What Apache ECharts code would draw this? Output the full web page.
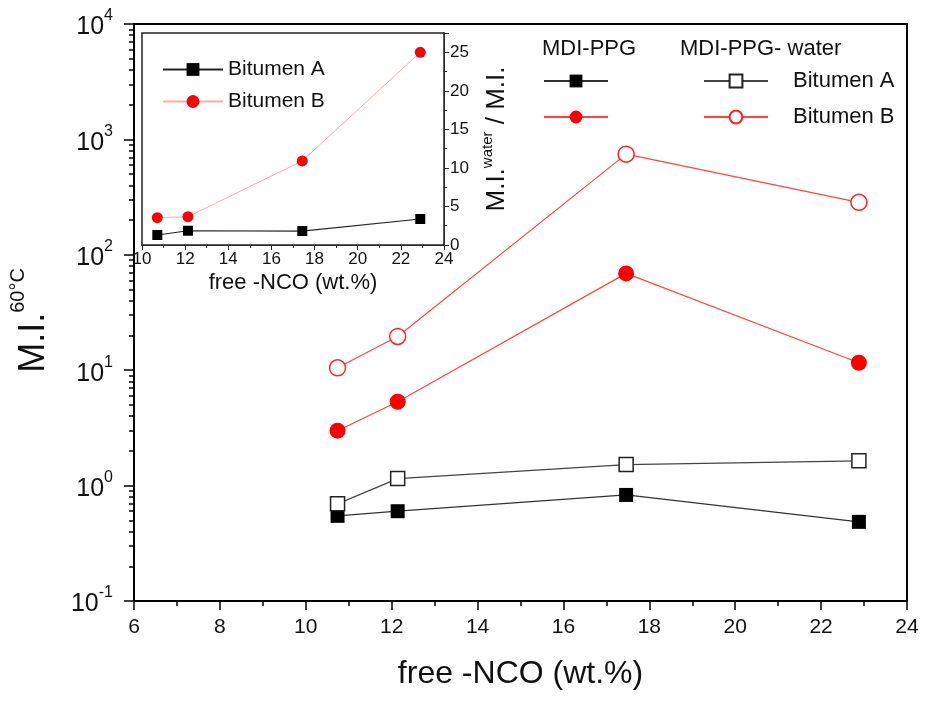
<!DOCTYPE html>
<html>
<head>
<meta charset="utf-8">
<script src="https://cdn.jsdelivr.net/npm/echarts@6/dist/echarts.min.js"></script>
<style>
  html, body { margin: 0; padding: 0; background: #fff; }
  #chart { width: 925px; height: 702px; }
</style>
</head>
<body>
<div id="chart"></div>
<script>
// main plot: M.I. at 60°C vs free -NCO
const nco = [10.74, 12.14, 17.46, 22.88];
const miA = [0.547, 0.60, 0.83, 0.485];
const miB = [2.99, 5.33, 69, 11.6];
const miAWater = [0.695, 1.15, 1.52, 1.64];
const miBWater = [10.5, 19.6, 745, 285];

// inset: ratio water / dry
const ncoInset = [10.71, 12.13, 17.43, 22.9];
const ratioA = [1.30, 1.85, 1.81, 3.37];
const ratioB = [3.54, 3.67, 10.9, 25.0];

const xTicksMain = [6, 24, 2];   // min, max, step
const yDecades = [-1, 4];        // 10^-1 .. 10^4

const font = 'Liberation Sans, Arial, sans-serif';
const pairs = (xs, ys) => xs.map((x, i) => [x, ys[i]]);

// minor log ticks 2..9 in each decade
const minorLog = [];
for (let e = yDecades[0]; e < yDecades[1]; e++) {
  for (let k = 2; k <= 9; k++) minorLog.push(+(k * Math.pow(10, e)).toPrecision(3));
}

const myChart = echarts.init(document.getElementById('chart'));

const legendText = { fontSize: 22, lineHeight: 24, color: '#111', fontFamily: font };

const option = {
  backgroundColor: '#fff',
  animation: false,
  textStyle: { fontFamily: font },
  title: [
    { text: 'MDI-PPG', left: 537, top: 33, textStyle: { fontSize: 22, fontWeight: 'normal', color: '#111', fontFamily: font } },
    { text: 'MDI-PPG- water', left: 675, top: 33, textStyle: { fontSize: 22, fontWeight: 'normal', color: '#111', fontFamily: font } }
  ],
  legend: [
    {
      data: ['MDI-PPG A', 'MDI-PPG B'],
      orient: 'vertical', left: 543, top: 69, padding: 0,
      itemWidth: 64, itemHeight: 16, itemGap: 12,
      formatter: () => ' ',
      textStyle: legendText
    },
    {
      data: ['water A', 'water B'],
      orient: 'vertical', left: 703, top: 69, padding: 0,
      itemWidth: 64, itemHeight: 16, itemGap: 12,
      formatter: (n) => n === 'water A' ? 'Bitumen A' : 'Bitumen B',
      textStyle: Object.assign({ padding: [0, 0, 0, 20] }, legendText)
    },
    {
      data: ['Bitumen A', 'Bitumen B'],
      orient: 'vertical', left: 162, top: 58, padding: 0,
      itemWidth: 60, itemHeight: 16, itemGap: 9,
      textStyle: { fontSize: 21, lineHeight: 23, color: '#111', fontFamily: font }
    }
  ],
  grid: [
    { left: 132, right: 18, top: 24, bottom: 101, show: true, borderColor: '#000', borderWidth: 2, z: 0 },
    { left: 142, width: 302, top: 33, height: 212, show: true, borderColor: '#222', borderWidth: 1.5, backgroundColor: '#fff', z: 3 }
  ],
  xAxis: [
    {
      type: 'value', gridIndex: 0,
      min: xTicksMain[0], max: xTicksMain[1], interval: xTicksMain[2],
      name: 'free -NCO (wt.%)', nameLocation: 'middle', nameGap: 57,
      nameTextStyle: { fontSize: 32, color: '#111', fontFamily: font },
      axisLine: { show: true, lineStyle: { color: '#000', width: 2 } },
      axisTick: { show: true, length: 9, lineStyle: { color: '#000', width: 1.5 } },
      minorTick: { show: true, splitNumber: 2, length: 5, lineStyle: { color: '#000', width: 1.5 } },
      splitLine: { show: false },
      axisLabel: { fontSize: 21, color: '#111', margin: 16 }
    },
    {
      type: 'value', gridIndex: 1,
      min: 10, max: 24, interval: 2,
      name: 'free -NCO (wt.%)', nameLocation: 'middle', nameGap: 27,
      nameTextStyle: { fontSize: 22, color: '#111', fontFamily: font },
      axisLine: { show: true, lineStyle: { color: '#222', width: 1.5 } },
      axisTick: { show: true, length: 5, lineStyle: { color: '#222' } },
      minorTick: { show: true, splitNumber: 2, length: 3, lineStyle: { color: '#222' } },
      splitLine: { show: false },
      axisLabel: { fontSize: 17, color: '#111', margin: 6 }
    }
  ],
  yAxis: [
    {
      type: 'log', logBase: 10, gridIndex: 0, position: 'left',
      min: Math.pow(10, yDecades[0]), max: Math.pow(10, yDecades[1]),
      name: '{m|M.I.}{s|60°C}', nameLocation: 'middle', nameRotate: 90, nameGap: 82,
      nameTextStyle: {
        padding: [0, 0, 0, -16],
        rich: {
          m: { fontSize: 36, color: '#111', verticalAlign: 'bottom', lineHeight: 44, fontFamily: font },
          s: { fontSize: 20, color: '#111', verticalAlign: 'top', lineHeight: 44, fontFamily: font }
        }
      },
      axisLine: { show: true, lineStyle: { color: '#000', width: 2 } },
      axisTick: { show: true, length: 10, lineStyle: { color: '#000', width: 1.5 } },
      splitLine: { show: false },
      axisLabel: {
        margin: 21,
        formatter: (v) => '{b|10}{s|' + Math.round(Math.log10(v)) + '}',
        rich: {
          b: { fontSize: 25, color: '#111', verticalAlign: 'bottom', lineHeight: 32, fontFamily: font },
          s: { fontSize: 16, color: '#111', verticalAlign: 'top', lineHeight: 32, fontFamily: font }
        }
      }
    },
    {
      type: 'log', logBase: 10, gridIndex: 0, position: 'left',
      min: Math.pow(10, yDecades[0]), max: Math.pow(10, yDecades[1]),
      axisLine: { show: false },
      axisTick: { show: true, length: 5, customValues: minorLog, lineStyle: { color: '#000', width: 1.5 } },
      axisLabel: { show: false },
      splitLine: { show: false }
    },
    {
      type: 'value', gridIndex: 1, position: 'right',
      min: 0, max: 27.5, interval: 5,
      name: '{m|M.I.}{s|water}{m| / M.I.}', nameLocation: 'middle', nameRotate: 90, nameGap: 36,
      nameTextStyle: {
        rich: {
          m: { fontSize: 26, color: '#111', verticalAlign: 'bottom', lineHeight: 30, fontFamily: font },
          s: { fontSize: 15, color: '#111', verticalAlign: 'top', lineHeight: 30, fontFamily: font }
        }
      },
      axisLine: { show: true, lineStyle: { color: '#222', width: 1.5 } },
      axisTick: { show: true, length: 5, lineStyle: { color: '#222' } },
      minorTick: { show: true, splitNumber: 2, length: 3, lineStyle: { color: '#222' } },
      splitLine: { show: false },
      axisLabel: { fontSize: 17, color: '#111', margin: 6, formatter: (v) => v % 5 === 0 ? v : '' }
    }
  ],
  series: [
    {
      name: 'MDI-PPG A', type: 'line', xAxisIndex: 0, yAxisIndex: 0,
      data: pairs(nco, miA),
      symbol: 'rect', symbolSize: 14,
      itemStyle: { color: '#000' },
      lineStyle: { color: '#333', width: 1.2 }
    },
    {
      name: 'MDI-PPG B', type: 'line', xAxisIndex: 0, yAxisIndex: 0,
      data: pairs(nco, miB),
      symbol: 'circle', symbolSize: 16,
      itemStyle: { color: '#ff0000' },
      lineStyle: { color: '#ff4444', width: 1.2 }
    },
    {
      name: 'water A', type: 'line', xAxisIndex: 0, yAxisIndex: 0,
      data: pairs(nco, miAWater),
      symbol: 'rect', symbolSize: 14,
      itemStyle: { color: '#fff', borderColor: '#222', borderWidth: 1.5 },
      lineStyle: { color: '#444', width: 1.2 }
    },
    {
      name: 'water B', type: 'line', xAxisIndex: 0, yAxisIndex: 0,
      data: pairs(nco, miBWater),
      symbol: 'circle', symbolSize: 16,
      itemStyle: { color: '#fff', borderColor: '#ff2222', borderWidth: 1.5 },
      lineStyle: { color: '#ff4444', width: 1.2 }
    },
    {
      name: 'Bitumen A', type: 'line', xAxisIndex: 1, yAxisIndex: 2,
      data: pairs(ncoInset, ratioA), z: 5,
      symbol: 'rect', symbolSize: 10,
      itemStyle: { color: '#000' },
      lineStyle: { color: '#222', width: 1.2 }
    },
    {
      name: 'Bitumen B', type: 'line', xAxisIndex: 1, yAxisIndex: 2,
      data: pairs(ncoInset, ratioB), z: 5,
      symbol: 'circle', symbolSize: 11,
      itemStyle: { color: '#ff0000' },
      lineStyle: { color: '#ffaaaa', width: 1 }
    }
  ]
};

option && myChart.setOption(option);
</script>
</body>
</html>
